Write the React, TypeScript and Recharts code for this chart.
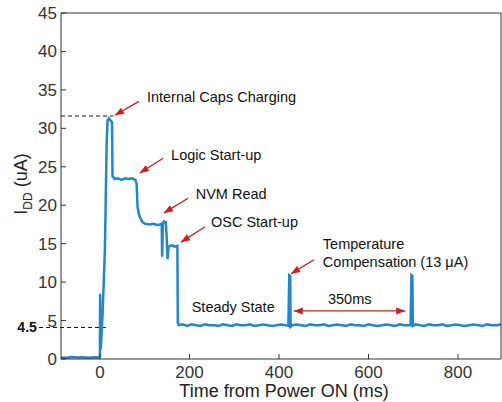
import { LineChart, Line, XAxis, YAxis, ReferenceLine, ReferenceDot } from 'recharts';

// current trace
const timeMs = [
  -87, -75, -62, -50, -38, -25, -12, -3, 0, 0.4, 0.9, 2, 6, 11, 15, 17, 20, 24, 27, 28,
  33, 40, 48, 56, 64, 72, 79, 82, 84, 88, 95, 100, 110, 120, 128, 134, 138, 139, 140.5, 143,
  147, 149, 151, 153, 160, 167, 173, 174, 176, 185, 195, 205, 215, 225, 235, 245, 255, 265, 275, 285,
  295, 305, 315, 325, 335, 345, 355, 365, 375, 385, 395, 405, 415, 421, 423, 425, 426, 430, 440, 450,
  460, 470, 480, 490, 500, 510, 520, 530, 540, 550, 560, 570, 580, 590, 600, 610, 620, 630, 640, 650,
  660, 670, 680, 690, 694, 696, 698, 699, 705, 715, 725, 735, 745, 755, 765, 775, 785, 795, 805, 815,
  825, 835, 845, 855, 865, 875, 885, 896,
];
const iddUa = [
  0.2, 0.15, 0.25, 0.18, 0.22, 0.15, 0.24, 0.18, 0.3, 8.5, 1.2, 1.5, 6, 14, 28, 31, 31.3, 31.0, 30.8, 23.8,
  23.4, 23.5, 23.3, 23.5, 23.4, 23.5, 23.3, 22.8, 19.8, 18.6, 17.8, 17.6, 17.5, 17.6, 17.4, 17.5, 17.6, 13.3, 17.5, 17.9,
  17.8, 16, 13.0, 14.6, 14.8, 14.6, 14.7, 4.7, 4.4, 4.5, 4.3, 4.5, 4.4, 4.3, 4.5, 4.4, 4.4, 4.3, 4.5, 4.4,
  4.3, 4.5, 4.4, 4.4, 4.5, 4.3, 4.4, 4.5, 4.4, 4.3, 4.4, 4.5, 4.4, 4.3, 10.9, 10.8, 4.2, 4.4, 4.5, 4.4,
  4.3, 4.5, 4.4, 4.4, 4.5, 4.3, 4.4, 4.5, 4.4, 4.3, 4.5, 4.4, 4.4, 4.3, 4.5, 4.4, 4.3, 4.4, 4.5, 4.4,
  4.3, 4.5, 4.4, 4.4, 4.4, 10.9, 10.8, 4.3, 4.5, 4.4, 4.3, 4.5, 4.4, 4.4, 4.5, 4.3, 4.4, 4.5, 4.4, 4.3,
  4.4, 4.5, 4.4, 4.3, 4.5, 4.4, 4.4, 4.5,
];

const xTicks = [0, 200, 400, 600, 800];
const yTicks = [0, 5, 10, 15, 20, 25, 30, 35, 40, 45];

const notes = [
  { text: 'Internal Caps Charging', t: 105, v: 34.1 },
  { text: 'Logic Start-up', t: 159, v: 26.5 },
  { text: 'NVM Read', t: 214, v: 21.5 },
  { text: 'OSC Start-up', t: 248, v: 17.8 },
  { text: 'Temperature', t: 498, v: 15.0 },
  { text: 'Compensation (13 \u03bcA)', t: 498, v: 12.6 },
  { text: 'Steady State', t: 205, v: 6.8 },
];

const arrows = [
  { from: [87, 33.5], to: [33.5, 31.7] },
  { from: [141, 26.1], to: [89, 24.2] },
  { from: [197, 20.9], to: [143, 19.0] },
  { from: [235, 17.2], to: [181, 15.2] },
  { from: [478, 12.9], to: [427, 11.1] },
];

const data = timeMs.map((t, i) => ({ t, idd: iddUa[i] }));

const FONT = '"Liberation Sans", Arial, sans-serif';
const RED = '#d11a1a';

function head(x1: number, y1: number, x2: number, y2: number) {
  const len = Math.hypot(x2 - x1, y2 - y1) || 1;
  const ux = (x2 - x1) / len;
  const uy = (y2 - y1) / len;
  const L = 9;
  const W = 3.5;
  const bx = x2 - ux * L;
  const by = y2 - uy * L;
  return `${x2},${y2} ${bx - uy * W},${by + ux * W} ${bx + uy * W},${by - ux * W}`;
}

function Arrow(props: any) {
  const { x1, y1, x2, y2, both } = props;
  return (
    <g>
      <line x1={x1} y1={y1} x2={x2} y2={y2} stroke={RED} strokeWidth={1.3} />
      <polygon points={head(x1, y1, x2, y2)} fill={RED} />
      {both && <polygon points={head(x2, y2, x1, y1)} fill={RED} />}
    </g>
  );
}

function NoteText(props: any) {
  const { cx, cy, text, anchor, bold, size } = props;
  return (
    <text
      x={cx}
      y={cy}
      dy="0.35em"
      textAnchor={anchor || 'start'}
      fontSize={size || 14.5}
      fontWeight={bold ? 'bold' : 'normal'}
      fill="#111"
      fontFamily={FONT}
    >
      {text}
    </text>
  );
}

export default function App() {
  return (
    <div style={{ position: 'absolute', left: 0, top: 0, background: '#fff' }}>
      <LineChart
        width={502}
        height={402}
        data={data}
        margin={{ top: 12, right: 0, left: 0, bottom: 0 }}
        style={{ fontFamily: FONT }}
      >
        <XAxis
          dataKey="t"
          type="number"
          domain={[-87, 896]}
          ticks={xTicks}
          allowDataOverflow
          height={43}
          stroke="#333"
          tickSize={-5}
          tickMargin={12}
          tick={{ fontSize: 17, fill: '#333', fontFamily: FONT }}
          label={(p: any) => {
            const vb = p.viewBox;
            return (
              <text x={vb.x + vb.width / 2 + 3} y={vb.y + 38} textAnchor="middle" fontSize={18} fill="#222" fontFamily={FONT}>
                Time from Power ON (ms)
              </text>
            );
          }}
        />
        <XAxis
          xAxisId="top"
          orientation="top"
          dataKey="t"
          type="number"
          domain={[-87, 896]}
          ticks={xTicks}
          allowDataOverflow
          height={1}
          stroke="#333"
          tickSize={-5}
          tick={false}
        />
        <YAxis
          type="number"
          domain={[0, 45]}
          ticks={yTicks}
          allowDataOverflow
          width={61}
          stroke="#333"
          tickSize={-5}
          tickMargin={9}
          tick={{ fontSize: 17, fill: '#333', fontFamily: FONT }}
          label={(p: any) => {
            const vb = p.viewBox;
            const x = vb.x + 27;
            const y = vb.y + vb.height / 2 - 2;
            return (
              <text x={x} y={y} textAnchor="middle" fontSize={18} fill="#222" fontFamily={FONT} transform={`rotate(-90, ${x}, ${y})`}>
                <tspan>I</tspan>
                <tspan fontSize={12} dy={5}>DD</tspan>
                <tspan dy={-5}> (uA)</tspan>
              </text>
            );
          }}
        />
        <YAxis
          yAxisId="right"
          orientation="right"
          type="number"
          domain={[0, 45]}
          ticks={yTicks}
          allowDataOverflow
          width={1}
          stroke="#333"
          tickSize={-5}
          tick={false}
        />

        <ReferenceLine
          segment={[{ x: -87, y: 31.6 }, { x: 30, y: 31.6 }]}
          stroke="#111"
          strokeDasharray="4 3"
          ifOverflow="visible"
        />
        <ReferenceLine
          segment={[{ x: -136, y: 4.1 }, { x: 13, y: 4.1 }]}
          stroke="#111"
          strokeDasharray="4 3"
          ifOverflow="visible"
        />
        <ReferenceDot
          x={-141}
          y={4.1}
          r={0}
          ifOverflow="visible"
          shape={(p: any) => <NoteText {...p} text="4.5" anchor="end" bold size={14} />}
        />

        <Line
          type="linear"
          dataKey="idd"
          stroke="#2186d0"
          strokeWidth={2.5}
          dot={false}
          isAnimationActive={false}
        />

        {arrows.map((a, i) => (
          <ReferenceLine
            key={'a' + i}
            segment={[{ x: a.from[0], y: a.from[1] }, { x: a.to[0], y: a.to[1] }]}
            ifOverflow="visible"
            shape={(p: any) => <Arrow {...p} />}
          />
        ))}
        <ReferenceLine
          segment={[{ x: 433, y: 6.25 }, { x: 682, y: 6.25 }]}
          ifOverflow="visible"
          shape={(p: any) => <Arrow {...p} both />}
        />
        <ReferenceDot
          x={558}
          y={7.8}
          r={0}
          ifOverflow="visible"
          shape={(p: any) => <NoteText {...p} text="350ms" anchor="middle" />}
        />

        {notes.map((n) => (
          <ReferenceDot
            key={n.text}
            x={n.t}
            y={n.v}
            r={0}
            ifOverflow="visible"
            shape={(p: any) => <NoteText {...p} text={n.text} />}
          />
        ))}
      </LineChart>
    </div>
  );
}
